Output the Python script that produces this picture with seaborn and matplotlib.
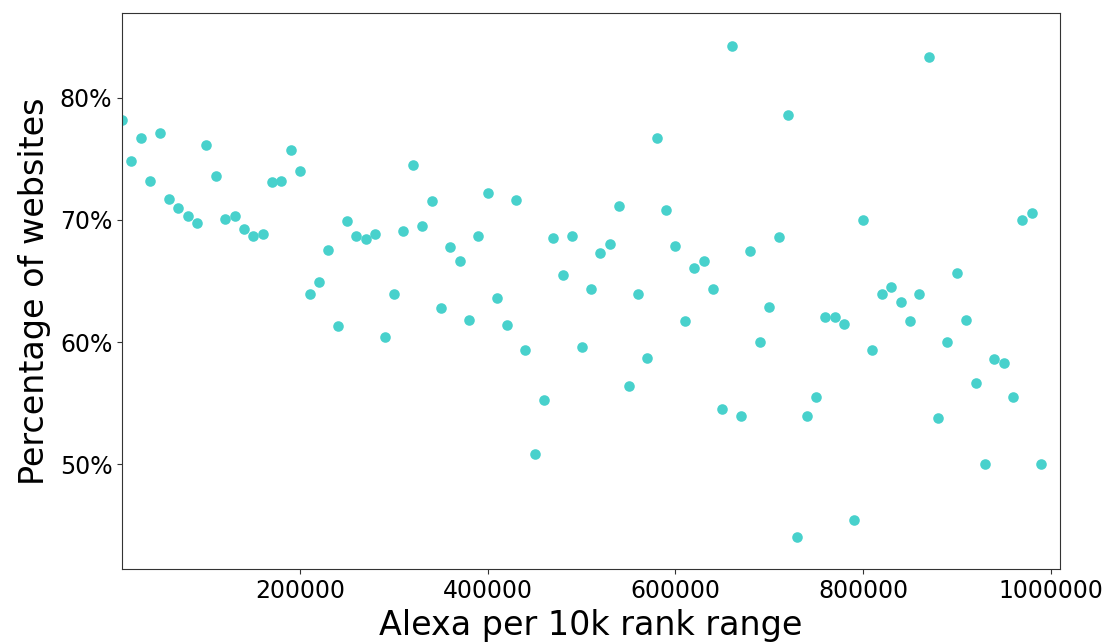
import matplotlib
matplotlib.use("Agg")
import matplotlib.pyplot as plt
import seaborn as sns
import pandas as pd
from matplotlib.ticker import PercentFormatter

# Rango Alexa (tramos de 10k) y porcentaje de sitios
rango_alexa = list(range(10000, 1000000, 10000))
porcentaje = [
    78.2, 74.8, 76.7, 73.2, 77.1, 71.7, 71.0, 70.3, 69.7, 76.1,
    73.6, 70.05, 70.3, 69.25, 68.66, 68.8, 73.1, 73.15, 75.75, 74.0,
    63.96, 64.9, 67.54, 61.34, 69.9, 68.66, 68.41, 68.82, 60.44, 63.96,
    69.09, 74.47, 69.5, 71.57, 62.75, 67.78, 66.66, 61.81, 68.7, 72.23,
    63.61, 61.4, 71.6, 59.33, 50.84, 55.24, 68.52, 65.52, 68.7, 59.57,
    64.37, 67.27, 68.05, 71.14, 56.41, 63.96, 58.7, 76.73, 70.83, 67.84,
    61.7, 66.04, 66.66, 64.37, 54.52, 84.23, 53.95, 67.43, 59.98, 62.87,
    68.6, 78.58, 44.08, 53.98, 55.5, 62.08, 62.08, 61.48, 45.42, 69.97,
    59.33, 63.96, 64.48, 63.31, 61.75, 63.96, 83.33, 53.79, 59.98, 65.63,
    61.83, 56.63, 50.0, 58.59, 58.31, 55.5, 69.97, 70.59, 50.0,
]

df = pd.DataFrame({'rango': rango_alexa, 'pct': porcentaje})

sns.set_style('ticks', {'text.color': 'black', 'axes.labelcolor': 'black',
                        'xtick.color': '.2', 'ytick.color': '.2',
                        'axes.edgecolor': '.2'})
fig = plt.figure(figsize=(11.06, 6.43), dpi=100)
ax = fig.add_axes([0.1103, 0.1146, 0.8481, 0.8647])

sns.scatterplot(data=df, x='rango', y='pct', color='#48D1CC', s=58,
                linewidth=0, ax=ax)

ax.set_xlim(10000, 1010000)
ax.set_ylim(41.4, 86.9)
ax.set_xticks([200000, 400000, 600000, 800000, 1000000])
ax.set_yticks([50, 60, 70, 80])
ax.yaxis.set_major_formatter(PercentFormatter(100, decimals=0))
ax.ticklabel_format(axis='x', style='plain', useOffset=False)
ax.tick_params(labelsize=17, labelcolor='black')
ax.set_xlabel('Alexa per 10k rank range', fontsize=24)
ax.set_ylabel('Percentage of websites', fontsize=24, labelpad=6)

plt.savefig('out.png', dpi=100)
plt.close()
